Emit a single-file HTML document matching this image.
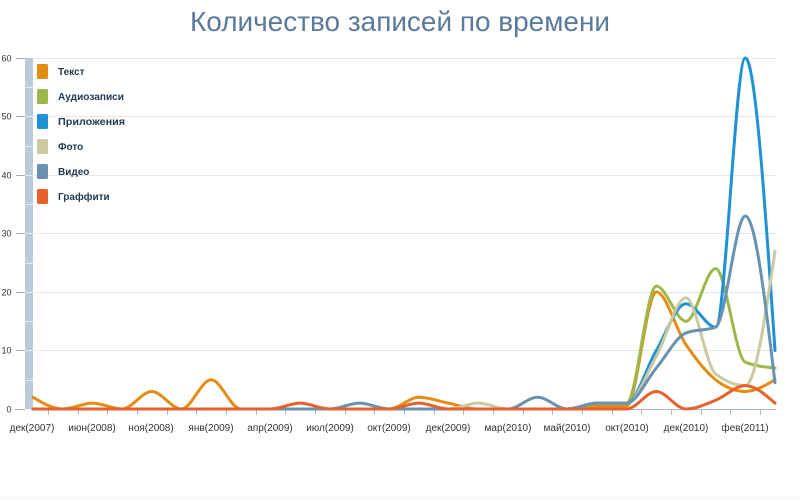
<!DOCTYPE html>
<html>
<head>
<meta charset="utf-8">
<style>
  html,body{margin:0;padding:0;background:#fff;}
  svg{display:block;}
  .yl{font-family:"Liberation Sans","DejaVu Sans",sans-serif;font-size:9px;fill:#333;}
  .xl{font-family:"Liberation Sans","DejaVu Sans",sans-serif;font-size:10px;fill:#333;}
  .lg{font-family:"Liberation Sans","DejaVu Sans",sans-serif;font-size:10px;font-weight:bold;fill:#243a52;}
  .tt{font-family:"Liberation Sans","DejaVu Sans",sans-serif;font-size:28px;fill:#5a7a9c;}
</style>
</head>
<body>
<svg width="800" height="500" viewBox="0 0 800 500" xmlns="http://www.w3.org/2000/svg">
  <rect x="0" y="0" width="800" height="500" fill="#fff"/>
  <rect x="0" y="496" width="800" height="4" fill="#fafafa"/>

  <!-- Title -->
  <text class="tt" x="190" y="31" textLength="420" lengthAdjust="spacingAndGlyphs">Количество записей по времени</text>

  <!-- Grid lines -->
  <g stroke="#e6e6e6" stroke-width="1">
    <line x1="33" y1="58.5" x2="776" y2="58.5"/>
    <line x1="33" y1="116.5" x2="776" y2="116.5"/>
    <line x1="33" y1="175.5" x2="776" y2="175.5"/>
    <line x1="33" y1="233.5" x2="776" y2="233.5"/>
    <line x1="33" y1="292.5" x2="776" y2="292.5"/>
    <line x1="33" y1="350.5" x2="776" y2="350.5"/>
  </g>

  <!-- Y ticks -->
  <g stroke="#a8a8a8" stroke-width="1">
    <line x1="16" y1="58.5" x2="25" y2="58.5"/>
    <line x1="16" y1="116.5" x2="25" y2="116.5"/>
    <line x1="16" y1="175.5" x2="25" y2="175.5"/>
    <line x1="16" y1="233.5" x2="25" y2="233.5"/>
    <line x1="16" y1="292.5" x2="25" y2="292.5"/>
    <line x1="16" y1="350.5" x2="25" y2="350.5"/>
    <line x1="15" y1="409.5" x2="25" y2="409.5"/>
  </g>

  <!-- Vertical bar -->
  <rect x="25" y="58" width="8" height="351" fill="#bccbda"/>
  <g stroke="#e4ebf2" stroke-width="1">
    <line x1="25" y1="87.5" x2="33" y2="87.5"/>
    <line x1="25" y1="116.5" x2="33" y2="116.5"/>
    <line x1="25" y1="146.5" x2="33" y2="146.5"/>
    <line x1="25" y1="175.5" x2="33" y2="175.5"/>
    <line x1="25" y1="204.5" x2="33" y2="204.5"/>
    <line x1="25" y1="233.5" x2="33" y2="233.5"/>
    <line x1="25" y1="263.5" x2="33" y2="263.5"/>
    <line x1="25" y1="292.5" x2="33" y2="292.5"/>
    <line x1="25" y1="321.5" x2="33" y2="321.5"/>
    <line x1="25" y1="350.5" x2="33" y2="350.5"/>
    <line x1="25" y1="380.5" x2="33" y2="380.5"/>
  </g>

  <!-- Y labels -->
  <g class="yl" text-anchor="end">
    <text x="11.5" y="61.5">60</text>
    <text x="11.5" y="119.5">50</text>
    <text x="11.5" y="178.5">40</text>
    <text x="11.5" y="236.5">30</text>
    <text x="11.5" y="295.5">20</text>
    <text x="11.5" y="353.5">10</text>
    <text x="11.5" y="412.5">0</text>
  </g>

  <!-- X axis -->
  <line x1="33" y1="409.5" x2="776" y2="409.5" stroke="#a9b9c9" stroke-width="1"/>
  <g id="xticks" stroke="#b0b8c0" stroke-width="1"></g>

  <!-- X labels -->
  <g class="xl" text-anchor="middle">
    <text x="32" y="431">дек(2007)</text>
    <text x="92" y="431">июн(2008)</text>
    <text x="151" y="431">ноя(2008)</text>
    <text x="211" y="431">янв(2009)</text>
    <text x="270" y="431">апр(2009)</text>
    <text x="330" y="431">июл(2009)</text>
    <text x="389" y="431">окт(2009)</text>
    <text x="448" y="431">дек(2009)</text>
    <text x="508" y="431">мар(2010)</text>
    <text x="567" y="431">май(2010)</text>
    <text x="627" y="431">окт(2010)</text>
    <text x="686" y="431">дек(2010)</text>
    <text x="745" y="431">фев(2011)</text>
  </g>

  <!-- Series -->
  <g id="series" fill="none" stroke-width="3" stroke-linecap="round" stroke-linejoin="round"></g>

  <!-- Legend -->
  <g>
    <rect x="37" y="64" width="11" height="15" rx="1.5" fill="#e38d12"/>
    <rect x="37" y="89" width="11" height="15" rx="1.5" fill="#9cb84a"/>
    <rect x="37" y="114" width="11" height="15" rx="1.5" fill="#1f91d4"/>
    <rect x="37" y="139" width="11" height="15" rx="1.5" fill="#cbc9a0"/>
    <rect x="37" y="164" width="11" height="15" rx="1.5" fill="#6892b2"/>
    <rect x="37" y="189" width="11" height="15" rx="1.5" fill="#e8602c"/>
  </g>
  <g class="lg">
    <text x="58" y="75">Текст</text>
    <text x="58" y="100" textLength="66" lengthAdjust="spacingAndGlyphs">Аудиозаписи</text>
    <text x="58" y="125" textLength="67" lengthAdjust="spacingAndGlyphs">Приложения</text>
    <text x="58" y="150">Фото</text>
    <text x="58" y="175">Видео</text>
    <text x="58" y="200">Граффити</text>
  </g>
</svg>
<script>
(function(){
  var X0=33, DX=29.68, Y0=409, K=5.85;
  var NS="http://www.w3.org/2000/svg";
  var xt=document.getElementById("xticks");
  for(var i=0;i<25;i++){
    var x=Math.round(X0+(i+0.5)*DX)+0.5;
    var l=document.createElementNS(NS,"line");
    l.setAttribute("x1",x);l.setAttribute("x2",x);
    l.setAttribute("y1",410);l.setAttribute("y2",415);
    xt.appendChild(l);
  }
  function z(n){var a=[];for(var i=0;i<n;i++)a.push(0);return a;}
  var series=[
    ["#e38d12",[2,0,1,0,3,0,5,0,0,0,0,0,0,2,1,0,0,0,0,0.5,0.5,20,11,5,3,5]],
    ["#9cb84a",z(19).concat([1,1,21,15,24,8,7])],
    ["#1f91d4",z(19).concat([1,1,10,18,14,60,10])],
    ["#cbc9a0",[0,0,0,0,0,0,0,0,0,0,0,0,0,0,0,1,0,0,0,1,1,9,19,6,4,27]],
    ["#6892b2",[0,0,0,0,0,0,0,0,0,0,0,1,0,0,0,0,0,2,0,1,1,7,13,14,33,4.5]],
    ["#e8602c",[0,0,0,0,0,0,0,0,0,1,0,0,0,1,0,0,0,0,0,0,0,3,0,1.5,4,1]]
  ];
  function sign(v){return v<0?-1:(v>0?1:0);}
  function build(data){
    var n=data.length, xs=[], ys=[], s=[], t=[];
    for(var i=0;i<n;i++){xs.push(X0+i*DX);ys.push(Y0-data[i]*K);}
    for(i=0;i<n-1;i++)s.push((ys[i+1]-ys[i])/DX);
    for(i=1;i<n-1;i++){
      var s0=s[i-1], s1=s[i], p=(s0+s1)/2;
      t[i]=(sign(s0)+sign(s1))*Math.min(Math.abs(s0),Math.abs(s1),0.5*Math.abs(p))||0;
    }
    t[0]=(3*s[0]-t[1])/2;
    t[n-1]=(3*s[n-2]-t[n-2])/2;
    var d="M"+xs[0].toFixed(2)+","+ys[0].toFixed(2);
    for(i=0;i<n-1;i++){
      var h=DX/3;
      d+="C"+(xs[i]+h).toFixed(2)+","+(ys[i]+h*t[i]).toFixed(2)+" "+
         (xs[i+1]-h).toFixed(2)+","+(ys[i+1]-h*t[i+1]).toFixed(2)+" "+
         xs[i+1].toFixed(2)+","+ys[i+1].toFixed(2);
    }
    return d;
  }
  var g=document.getElementById("series");
  series.forEach(function(sr){
    var p=document.createElementNS(NS,"path");
    p.setAttribute("d",build(sr[1]));
    p.setAttribute("stroke",sr[0]);
    g.appendChild(p);
  });
})();
</script>
</body>
</html>
